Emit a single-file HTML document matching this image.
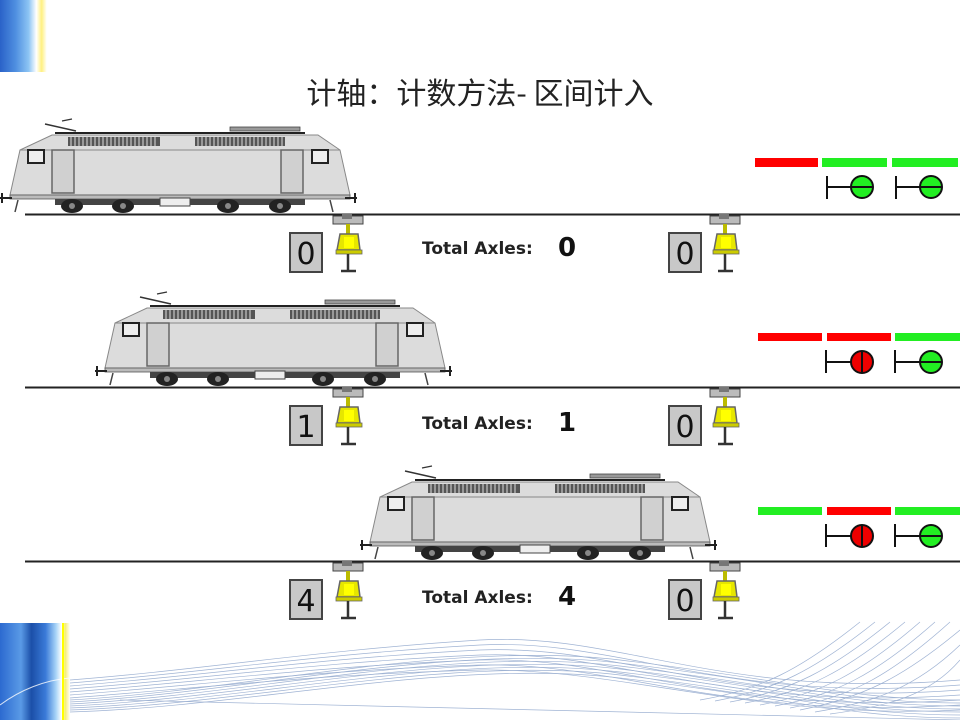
<!DOCTYPE html>
<html><head><meta charset="utf-8"><style>
html,body{margin:0;padding:0;background:#fff;}
svg{display:block;}
</style></head><body>
<svg width="960" height="720" viewBox="0 0 960 720" xmlns="http://www.w3.org/2000/svg">
<defs>
<linearGradient id="bl" x1="0" x2="1" y1="0" y2="0">
<stop offset="0" stop-color="#2a62c8"/><stop offset="0.3" stop-color="#4f8fe0"/><stop offset="0.55" stop-color="#8cc4f4"/><stop offset="0.7" stop-color="#ffffff"/><stop offset="0.8" stop-color="#fff080"/><stop offset="0.9" stop-color="#ffffff"/><stop offset="1" stop-color="#ffffff"/>
</linearGradient>
<linearGradient id="bl2" x1="0" x2="1" y1="0" y2="0">
<stop offset="0" stop-color="#2c6ad0"/><stop offset="0.3" stop-color="#5a9ae6"/><stop offset="0.45" stop-color="#1b4fa8"/><stop offset="0.65" stop-color="#3a7ad8"/><stop offset="0.8" stop-color="#a8d4f8"/><stop offset="0.88" stop-color="#ffffff"/><stop offset="0.93" stop-color="#f8f070"/><stop offset="1" stop-color="#ffffff"/>
</linearGradient>
<g id="train">
<line x1="45" y1="124" x2="76" y2="131" stroke="#333" stroke-width="1.5"/>
<line x1="62" y1="121" x2="72" y2="119" stroke="#333" stroke-width="1.2"/>
<rect x="230" y="127" width="70" height="4" fill="#999" stroke="#444" stroke-width="0.8"/>
<line x1="55" y1="133" x2="305" y2="133" stroke="#222" stroke-width="2"/>
<polygon points="52,135 318,135 340,150 350,195 10,195 20,150" fill="#dcdcdc" stroke="#888" stroke-width="1"/>
<line x1="20" y1="150" x2="340" y2="150" stroke="#888" stroke-width="1"/>
<rect x="68" y="137" width="92" height="9" fill="#555"/>
<rect x="195" y="137" width="90" height="9" fill="#555"/>
<g stroke="#ddd" stroke-width="1">
<path d="M71 137v9M75 137v9M79 137v9M83 137v9M87 137v9M91 137v9M95 137v9M99 137v9M103 137v9M107 137v9M111 137v9M115 137v9M119 137v9M123 137v9M127 137v9M131 137v9M135 137v9M139 137v9M143 137v9M147 137v9M151 137v9M155 137v9"/>
<path d="M198 137v9M202 137v9M206 137v9M210 137v9M214 137v9M218 137v9M222 137v9M226 137v9M230 137v9M234 137v9M238 137v9M242 137v9M246 137v9M250 137v9M254 137v9M258 137v9M262 137v9M266 137v9M270 137v9M274 137v9M278 137v9M282 137v9"/>
</g>
<rect x="28" y="150" width="16" height="13" fill="#eee" stroke="#222" stroke-width="2"/>
<rect x="312" y="150" width="16" height="13" fill="#eee" stroke="#222" stroke-width="2"/>
<rect x="52" y="150" width="22" height="43" fill="#d0d0d0" stroke="#666" stroke-width="1.5"/>
<rect x="281" y="150" width="22" height="43" fill="#d0d0d0" stroke="#666" stroke-width="1.5"/>
<rect x="10" y="195" width="340" height="4" fill="#bbb" stroke="#555" stroke-width="0.8"/>
<rect x="55" y="199" width="250" height="6" fill="#444"/>
<g fill="#222">
<ellipse cx="72" cy="206" rx="11" ry="7"/><ellipse cx="123" cy="206" rx="11" ry="7"/>
<ellipse cx="228" cy="206" rx="11" ry="7"/><ellipse cx="280" cy="206" rx="11" ry="7"/>
</g>
<g fill="#888"><circle cx="72" cy="206" r="3"/><circle cx="123" cy="206" r="3"/><circle cx="228" cy="206" r="3"/><circle cx="280" cy="206" r="3"/></g>
<rect x="160" y="198" width="30" height="8" fill="#eee" stroke="#444" stroke-width="1"/>
<line x1="0" y1="198" x2="12" y2="198" stroke="#222" stroke-width="2"/>
<line x1="2" y1="193" x2="2" y2="203" stroke="#222" stroke-width="2"/>
<line x1="345" y1="198" x2="357" y2="198" stroke="#222" stroke-width="2"/>
<line x1="355" y1="193" x2="355" y2="203" stroke="#222" stroke-width="2"/>
<path d="M18 200 l-3 12 M330 200 l3 12" stroke="#444" stroke-width="1.5"/>
</g>
<g id="sensor">
<rect x="333" y="2" width="30" height="8" fill="#bbb" stroke="#444" stroke-width="1"/>
<rect x="342" y="0" width="10" height="5" fill="#777"/>
<rect x="346" y="10" width="4" height="10" fill="#bb0"/>
<polygon points="340,20 358,20 360,36 337,36" fill="#e6e600" stroke="#666" stroke-width="1.5"/>
<rect x="344" y="23" width="10" height="11" fill="#ffff00"/>
<rect x="336" y="36" width="26" height="4" fill="#cc0" stroke="#666" stroke-width="0.8"/>
<line x1="348" y1="40" x2="348" y2="57" stroke="#333" stroke-width="2.5"/>
<line x1="341" y1="57" x2="356" y2="57" stroke="#333" stroke-width="2.5"/>
</g>
</defs>

<rect x="0" y="0" width="52" height="72" fill="url(#bl)"/>
<g>
<rect x="0" y="623" width="70" height="97" fill="url(#bl2)"/>
<g fill="none" stroke="#8fa6cc" stroke-width="0.7" opacity="0.85">
<path d="M70 700 C 250 690, 450 640, 620 660 S 850 700, 960 700"/>
<path d="M70 702 C 250 692, 450 643, 620 663 S 850 703, 960 703"/>
<path d="M70 704 C 250 695, 450 646, 620 666 S 850 706, 960 706"/>
<path d="M70 706 C 250 698, 450 649, 620 669 S 850 709, 960 709"/>
<path d="M70 708 C 250 701, 450 652, 620 672 S 850 712, 960 712"/>
<path d="M70 710 C 250 704, 450 655, 620 675 S 850 715, 960 715"/>
<path d="M70 712 C 250 707, 450 658, 620 678 S 850 718, 960 718"/>
<path d="M70 680 C 200 670, 320 650, 480 640 C 620 632, 720 700, 960 680"/>
<path d="M70 683 C 200 673, 320 654, 480 645 C 620 638, 720 704, 960 685"/>
<path d="M70 686 C 200 676, 320 658, 480 650 C 620 644, 720 708, 960 690"/>
<path d="M70 689 C 200 679, 320 662, 480 655 C 620 650, 720 712, 960 695"/>
<path d="M70 692 C 200 682, 320 666, 480 660 C 620 656, 720 716, 960 700"/>
<path d="M70 695 C 200 685, 320 670, 480 665 C 620 662, 720 720, 960 705"/>
<path d="M70 698 C 200 688, 320 674, 480 670 C 620 668, 760 720, 960 710"/>
<path d="M860 622 C 800 670, 760 690, 700 700"/>
<path d="M875 622 C 815 670, 775 690, 715 701"/>
<path d="M890 622 C 830 671, 790 691, 730 702"/>
<path d="M905 622 C 845 672, 805 692, 745 703"/>
<path d="M920 622 C 860 674, 820 694, 760 705"/>
<path d="M935 622 C 875 675, 835 695, 775 706"/>
<path d="M950 622 C 890 676, 850 697, 790 708"/>
<path d="M960 630 C 900 680, 860 698, 800 710"/>
<path d="M960 645 C 915 688, 875 702, 815 712"/>
<path d="M960 660 C 930 695, 890 706, 830 714"/>
<path d="M120 700 L 960 720"/>
</g>
<path d="M0 705 C 20 690, 45 680, 70 678" stroke="#fff" stroke-width="1" fill="none" opacity="0.8"/>
<rect x="62" y="623" width="2" height="97" fill="#ff0"/>
</g>

<text x="480" y="104" text-anchor="middle" font-family="'Noto Sans CJK SC','WenQuanYi Zen Hei',sans-serif" font-size="30" fill="#222">计轴：计数方法- 区间计入</text>

<!-- row 1 -->
<line x1="25" y1="214.5" x2="960" y2="214.5" stroke="#222" stroke-width="2"/>
<use href="#train"/>
<g transform="translate(0,214)">
<use href="#sensor"/>
<use href="#sensor" transform="translate(377,0)"/>
<rect x="290" y="19" width="32" height="39" fill="#c8c8c8" stroke="#444" stroke-width="2"/>
<text x="306" y="50" text-anchor="middle" font-family="'DejaVu Sans',sans-serif" font-size="30" fill="#111">0</text>
<rect x="669" y="19" width="32" height="39" fill="#c8c8c8" stroke="#444" stroke-width="2"/>
<text x="685" y="50" text-anchor="middle" font-family="'DejaVu Sans',sans-serif" font-size="30" fill="#111">0</text>
<text x="422" y="40" font-family="'DejaVu Sans',sans-serif" font-weight="bold" font-size="17" fill="#222">Total Axles:</text>
<text x="558" y="42" font-family="'DejaVu Sans',sans-serif" font-weight="bold" font-size="26" fill="#111">0</text>
</g>
<rect x="755" y="158" width="63" height="9" fill="#f00"/>
<rect x="822" y="158" width="65" height="9" fill="#2e2"/>
<rect x="892" y="158" width="66" height="9" fill="#2e2"/>
<g stroke="#111" stroke-width="2">
<line x1="827" y1="176" x2="827" y2="199"/><line x1="827" y1="187" x2="851" y2="187"/>
<circle cx="862" cy="187" r="11" fill="#2e2"/><line x1="851" y1="187" x2="873" y2="187"/>
<line x1="896" y1="176" x2="896" y2="199"/><line x1="896" y1="187" x2="920" y2="187"/>
<circle cx="931" cy="187" r="11" fill="#2e2"/><line x1="920" y1="187" x2="942" y2="187"/>
</g>

<!-- row 2 -->
<line x1="25" y1="387.5" x2="960" y2="387.5" stroke="#222" stroke-width="2"/>
<use href="#train" transform="translate(95,173)"/>
<g transform="translate(0,387)">
<use href="#sensor"/>
<use href="#sensor" transform="translate(377,0)"/>
<rect x="290" y="19" width="32" height="39" fill="#c8c8c8" stroke="#444" stroke-width="2"/>
<text x="306" y="50" text-anchor="middle" font-family="'DejaVu Sans',sans-serif" font-size="30" fill="#111">1</text>
<rect x="669" y="19" width="32" height="39" fill="#c8c8c8" stroke="#444" stroke-width="2"/>
<text x="685" y="50" text-anchor="middle" font-family="'DejaVu Sans',sans-serif" font-size="30" fill="#111">0</text>
<text x="422" y="42" font-family="'DejaVu Sans',sans-serif" font-weight="bold" font-size="17" fill="#222">Total Axles:</text>
<text x="558" y="44" font-family="'DejaVu Sans',sans-serif" font-weight="bold" font-size="26" fill="#111">1</text>
</g>
<rect x="758" y="333" width="64" height="8" fill="#f00"/>
<rect x="827" y="333" width="64" height="8" fill="#f00"/>
<rect x="895" y="333" width="65" height="8" fill="#2e2"/>
<g stroke="#111" stroke-width="2">
<line x1="826" y1="350" x2="826" y2="373"/><line x1="826" y1="362" x2="851" y2="362"/>
<circle cx="862" cy="362" r="11" fill="#e00"/><line x1="862" y1="351" x2="862" y2="373"/>
<line x1="895" y1="350" x2="895" y2="373"/><line x1="895" y1="362" x2="920" y2="362"/>
<circle cx="931" cy="362" r="11" fill="#2e2"/><line x1="920" y1="362" x2="942" y2="362"/>
</g>

<!-- row 3 -->
<line x1="25" y1="561.5" x2="960" y2="561.5" stroke="#222" stroke-width="2"/>
<use href="#train" transform="translate(360,347)"/>
<g transform="translate(0,561)">
<use href="#sensor"/>
<use href="#sensor" transform="translate(377,0)"/>
<rect x="290" y="19" width="32" height="39" fill="#c8c8c8" stroke="#444" stroke-width="2"/>
<text x="306" y="50" text-anchor="middle" font-family="'DejaVu Sans',sans-serif" font-size="30" fill="#111">4</text>
<rect x="669" y="19" width="32" height="39" fill="#c8c8c8" stroke="#444" stroke-width="2"/>
<text x="685" y="50" text-anchor="middle" font-family="'DejaVu Sans',sans-serif" font-size="30" fill="#111">0</text>
<text x="422" y="42" font-family="'DejaVu Sans',sans-serif" font-weight="bold" font-size="17" fill="#222">Total Axles:</text>
<text x="558" y="44" font-family="'DejaVu Sans',sans-serif" font-weight="bold" font-size="26" fill="#111">4</text>
</g>
<rect x="758" y="507" width="64" height="8" fill="#2e2"/>
<rect x="827" y="507" width="64" height="8" fill="#f00"/>
<rect x="895" y="507" width="65" height="8" fill="#2e2"/>
<g stroke="#111" stroke-width="2">
<line x1="826" y1="524" x2="826" y2="547"/><line x1="826" y1="536" x2="851" y2="536"/>
<circle cx="862" cy="536" r="11" fill="#e00"/><line x1="862" y1="525" x2="862" y2="547"/>
<line x1="895" y1="524" x2="895" y2="547"/><line x1="895" y1="536" x2="920" y2="536"/>
<circle cx="931" cy="536" r="11" fill="#2e2"/><line x1="920" y1="536" x2="942" y2="536"/>
</g>
</svg>
</body></html>
